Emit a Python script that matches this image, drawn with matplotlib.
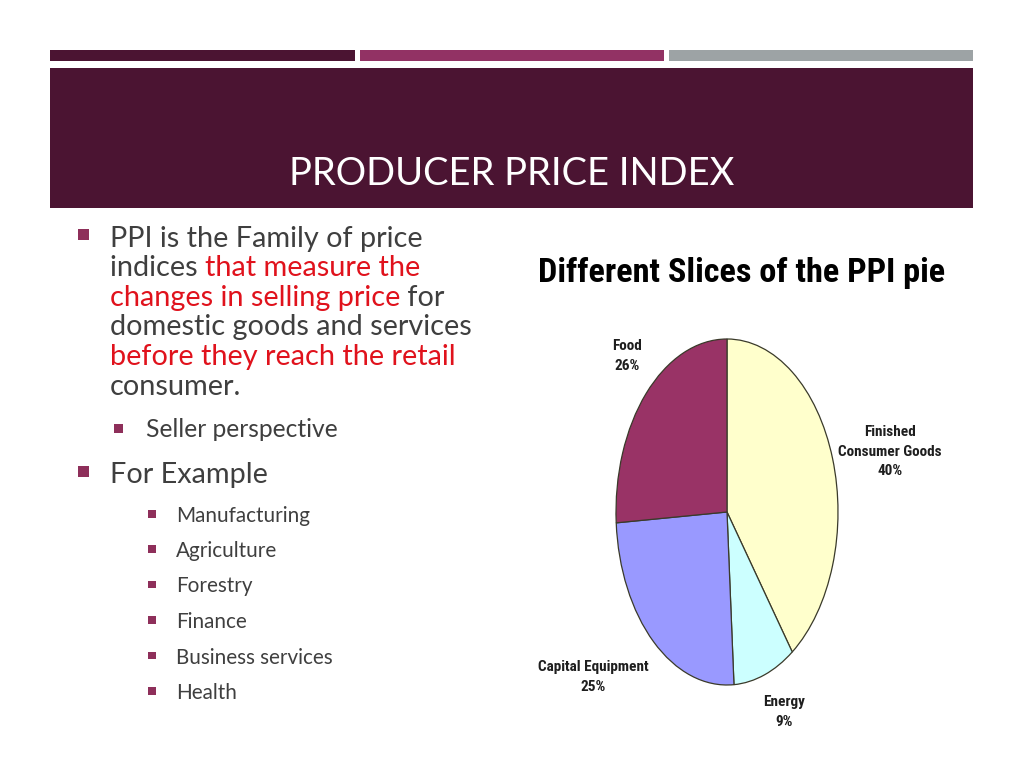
import matplotlib
matplotlib.use("Agg")
import matplotlib.pyplot as plt
from matplotlib.patches import Rectangle
from matplotlib import font_manager as fm

# ---------------- data ----------------
categories = ["Finished\nConsumer Goods", "Energy", "Capital Equipment", "Food"]
shares = [40, 9, 25, 26]
slice_colors = ["#FFFFCC", "#CCFFFF", "#9999FF", "#993366"]

slide_title = "PRODUCER PRICE INDEX"
chart_title = "Different Slices of the PPI pie"
GRAY = "#3F3F3F"
RED = "#E0121C"
paragraph = [
    [("PPI is the Family of price", GRAY)],
    [("indices ", GRAY), ("that measure the", RED)],
    [("changes in selling price", RED), (" for", GRAY)],
    [("domestic goods and services", GRAY)],
    [("before they reach the retail", RED)],
    [("consumer.", GRAY)],
]
sub_point = "Seller perspective"
second_point = "For Example"
examples = ["Manufacturing", "Agriculture", "Forestry", "Finance",
            "Business services", "Health"]

# ---------------- layout ----------------
W, H = 1024, 768
DARK = "#4B1432"
MAGENTA = "#923264"
GREYBAR = "#9DA3A5"
BULLET = "#8E2F5A"
BODY_FONT = ["Lato", "DejaVu Sans"]

names = {f.name for f in fm.fontManager.ttflist}
narrow_candidates = ["Roboto Condensed", "Liberation Sans Narrow", "Open Sans Condensed"]
NARROW = [n for n in narrow_candidates if n in names] + ["Liberation Sans", "DejaVu Sans"]

fig = plt.figure(figsize=(W / 100, H / 100), dpi=100)
fig.patch.set_facecolor("white")
bg = fig.add_axes([0, 0, 1, 1])
bg.set_xlim(0, W)
bg.set_ylim(H, 0)
bg.axis("off")
renderer = fig.canvas.get_renderer()


def text_width(s, size, **kw):
    t = bg.text(0, 0, s, fontsize=size, **kw)
    w = t.get_window_extent(renderer).width
    t.remove()
    return w


def fit(s, width, **kw):
    return 20 * width / text_width(s, 20, **kw)


# top bars and header band
bg.add_patch(Rectangle((50, 49.5), 305, 11.5, color=DARK, lw=0))
bg.add_patch(Rectangle((360, 49.5), 304, 11.5, color=MAGENTA, lw=0))
bg.add_patch(Rectangle((669, 49.5), 303.5, 11.5, color=GREYBAR, lw=0))
bg.add_patch(Rectangle((50, 67.5), 922.5, 140, color=DARK, lw=0))

ts = fit(slide_title, 445, family=BODY_FONT)
bg.text(512, 185, slide_title, color="white", fontsize=ts, family=BODY_FONT,
        ha="center", va="baseline")

# body paragraph
body_size = fit("domestic goods and services", 362, family=BODY_FONT)
baselines = [247, 276, 306, 335.5, 365, 395]
for segs, yb in zip(paragraph, baselines):
    x = 110
    for s, c in segs:
        t = bg.text(x, yb, s, color=c, fontsize=body_size, family=BODY_FONT,
                    ha="left", va="baseline")
        x += t.get_window_extent(renderer).width

bg.add_patch(Rectangle((78, 229), 10.5, 10.5, color=BULLET, lw=0))

sub_size = fit(sub_point, 193, family=BODY_FONT)
bg.add_patch(Rectangle((114, 424), 8.5, 8.5, color=BULLET, lw=0))
bg.text(146, 437, sub_point, color=GRAY, fontsize=sub_size, family=BODY_FONT,
        ha="left", va="baseline")

fe_size = fit(second_point, 158, family=BODY_FONT)
bg.add_patch(Rectangle((78, 466), 10.5, 10.5, color=BULLET, lw=0))
bg.text(110, 483, second_point, color=GRAY, fontsize=fe_size, family=BODY_FONT,
        ha="left", va="baseline")

ex_size = fit("Business services", 157, family=BODY_FONT)
ex_base = [522, 557, 592.5, 628, 663.5, 699]
for s, yb in zip(examples, ex_base):
    bg.add_patch(Rectangle((148, yb - 12), 7.5, 7.5, color=BULLET, lw=0))
    bg.text(176, yb, s, color=GRAY, fontsize=ex_size, family=BODY_FONT,
            ha="left", va="baseline")

# chart title
ct_size = fit(chart_title, 405, family=NARROW, weight="heavy")
bg.text(742, 282, chart_title, color="black", fontsize=ct_size, family=NARROW,
        weight="heavy", ha="center", va="baseline")

# pie (elliptical, as in the reference)
ax = fig.add_axes([616 / W, (H - 685) / H, 222 / W, 346 / H])
wedges, _ = ax.pie(shares, colors=slice_colors, startangle=90, counterclock=False,
                   wedgeprops=dict(edgecolor="#3A3A2A", linewidth=0.9))
for w in wedges:
    w.set_clip_on(False)
ax.set_aspect("auto")
ax.set_xlim(-1, 1)
ax.set_ylim(-1, 1)
ax.axis("off")

label_pos = [(890, 451.5), (784, 712), (593, 677), (627, 356)]
lab_size = fit("Capital Equipment", 111, family=NARROW, weight="bold")
for cat, sh, (lx, ly) in zip(categories, shares, label_pos):
    bg.text(lx, ly, f"{cat}\n{sh}%", color="#1E1E1E", fontsize=lab_size,
            family=NARROW, weight="bold", ha="center", va="center",
            multialignment="center", linespacing=1.5)

fig.savefig("out.png", dpi=100, facecolor="white")
